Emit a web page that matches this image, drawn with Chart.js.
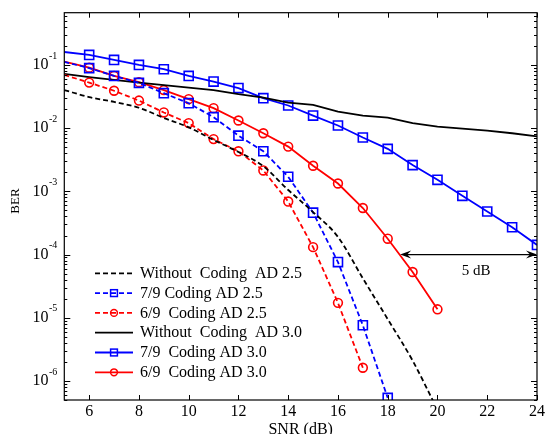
<!DOCTYPE html>
<html><head><meta charset="utf-8">
<script src="https://cdn.jsdelivr.net/npm/chart.js@4.4.1/dist/chart.umd.min.js"></script>
<style>html,body{margin:0;padding:0;background:#fff;}#wrap{width:547px;height:434px;position:relative;}</style>
</head><body><div id="wrap"><canvas id="c" width="547" height="434"></canvas></div>
<script>
// ---------- data ----------
const snrUncoded25 = [5,6,7,8,9,10,11,12,13,14,15,16,17,18,19,20];
const berUncoded25 = [0.040,0.031,0.026,0.021,0.0145,0.0103,0.0065,0.0042,0.0025,0.00105,0.00047,0.00019,4.2e-5,9.5e-6,2.1e-6,3.5e-7];
const snrCode79_25 = [5,6,7,8,9,10,11,12,13,14,15,16,17,18];
const berCode79_25 = [0.112,0.089,0.067,0.052,0.0357,0.0248,0.0149,0.0076,0.0043,0.0017,0.00046,7.6e-5,7.6e-6,5.4e-7];
const snrCode69_25 = [5,6,7,8,9,10,11,12,13,14,15,16,17];
const berCode69_25 = [0.0695,0.0525,0.039,0.0273,0.0177,0.012,0.0067,0.0043,0.00214,0.00069,0.000131,1.72e-5,1.62e-6];
const snrUncoded30 = [5,6,7,8,9,10,11,12,13,14,15,16,17,18,19,20,21,22,23,24];
const berUncoded30 = [0.072,0.064,0.058,0.0525,0.048,0.0438,0.040,0.0344,0.0305,0.0254,0.0233,0.0183,0.0158,0.0147,0.012,0.0106,0.0098,0.0091,0.0083,0.0074];
const snrCode79_30 = [5,6,7,8,9,10,11,12,13,14,15,16,17,18,19,20,21,22,23,24];
const berCode79_30 = [0.16,0.144,0.12,0.1,0.0855,0.067,0.0545,0.043,0.0298,0.0228,0.0158,0.011,0.0071,0.0047,0.0026,0.00152,0.00085,0.00048,0.00027,0.000142];
const snrCode69_30 = [5,6,7,8,9,10,11,12,13,14,15,16,17,18,19,20];
const berCode69_30 = [0.113,0.0906,0.067,0.0533,0.040,0.0287,0.0207,0.0132,0.0083,0.0051,0.00254,0.00133,0.000545,0.000178,5.3e-5,1.36e-5];

const seriesLabels = ['Without  Coding  AD 2.5','7/9 Coding AD 2.5','6/9  Coding AD 2.5','Without  Coding  AD 3.0','7/9  Coding AD 3.0','6/9  Coding AD 3.0'];
const xTickVals = [6,8,10,12,14,16,18,20,22,24];
const yDecades = [-6,-5,-4,-3,-2,-1];
const xRange = [5,24];
const yRange = [5e-7,0.67];
// annotation (data units)
const arrowY = 1e-4, arrowX = [18.5,24];
const noteText = '5 dB', noteX = 21.55, noteY = 5.4e-5;

// ---------- styles ----------
const styles = [
  {color:'#000000', dash:[5,3], marker:null},
  {color:'#0000ff', dash:[5,3], marker:'rect'},
  {color:'#ff0000', dash:[5,3], marker:'circle'},
  {color:'#000000', dash:[], marker:null},
  {color:'#0000ff', dash:[], marker:'rect'},
  {color:'#ff0000', dash:[], marker:'circle'}
];
const xs = [snrUncoded25,snrCode79_25,snrCode69_25,snrUncoded30,snrCode79_30,snrCode69_30];
const ys = [berUncoded25,berCode79_25,berCode69_25,berUncoded30,berCode79_30,berCode69_30];
const SERIF = '"Liberation Serif","Times New Roman",serif';

const datasets = styles.map((s,i)=>({
  label: seriesLabels[i],
  data: xs[i].map((x,j)=>({x:x,y:ys[i][j]})),
  borderColor: s.color,
  borderWidth: 1.8,
  borderDash: s.dash,
  backgroundColor: 'rgba(0,0,0,0)',
  pointStyle: s.marker || 'circle',
  pointRadius: s.marker ? (c => (c.raw && c.raw.x < 6) ? 0 : (s.marker==='rect'?6.4:4.4)) : 0,
  pointHoverRadius: 0,
  pointBorderColor: s.color,
  pointBackgroundColor: 'rgba(0,0,0,0)',
  pointBorderWidth: 1.6,
  tension: 0,
  cubicInterpolationMode: i===0 ? 'monotone' : 'default',
  fill: false
}));

function line(ctx,x1,y1,x2,y2){ctx.beginPath();ctx.moveTo(x1,y1);ctx.lineTo(x2,y2);ctx.stroke();}
function arrowHead(ctx,tx,ty,dir){
  // dir: -1 points left, +1 points right
  const L=11, W=4, N=7;
  ctx.beginPath();
  ctx.moveTo(tx,ty);
  ctx.lineTo(tx-dir*L,ty-W);
  ctx.lineTo(tx-dir*N,ty);
  ctx.lineTo(tx-dir*L,ty+W);
  ctx.closePath();
  ctx.fill();
}

const decor = {
  id:'decor',
  afterDatasetsDraw(chart){
    const {ctx, chartArea:a, scales:{x,y}} = chart;
    ctx.save();
    ctx.strokeStyle='#000'; ctx.fillStyle='#000'; ctx.setLineDash([]);
    // frame
    ctx.lineWidth=1.2;
    ctx.strokeRect(a.left,a.top,a.right-a.left,a.bottom-a.top);
    ctx.lineWidth=1;
    // x ticks
    xTickVals.forEach(v=>{
      const px=Math.round(x.getPixelForValue(v))+0.5;
      line(ctx,px,a.bottom,px,a.bottom-5);
      line(ctx,px,a.top,px,a.top+5);
    });
    // y ticks
    for(let d=-7; d<=0; d++){
      for(let k=1;k<10;k++){
        const v=k*Math.pow(10,d);
        if(v<y.min||v>y.max) continue;
        const py=Math.round(y.getPixelForValue(v))+0.5;
        const L=(k===1)?6:3;
        line(ctx,a.left,py,a.left+L,py);
        line(ctx,a.right,py,a.right-L,py);
      }
    }
    // y tick labels 10^e
    ctx.textBaseline='middle';
    yDecades.forEach(e=>{
      const py=y.getPixelForValue(Math.pow(10,e));
      ctx.font='16px '+SERIF; ctx.textAlign='right';
      ctx.fillText('10',48.5,py);
      ctx.font='10px '+SERIF; ctx.textAlign='left';
      ctx.fillText(String(e),49,py-9);
    });
    // y title
    ctx.save();
    ctx.translate(16,201); ctx.rotate(-Math.PI/2);
    ctx.font='13px '+SERIF; ctx.textAlign='center';
    ctx.fillText('BER',0,0);
    ctx.restore();
    // legend
    const lx0=95, lx1=133, ltx=140, ly0=273.3, lstep=19.8;
    styles.forEach((s,i)=>{
      const ly=ly0+i*lstep;
      ctx.strokeStyle=s.color; ctx.lineWidth=1.8; ctx.setLineDash(s.dash);
      line(ctx,lx0,ly,lx1,ly);
      ctx.setLineDash([]); ctx.lineWidth=1.5;
      const mx=(lx0+lx1)/2;
      if(s.marker==='rect'){ ctx.strokeRect(mx-3.4,ly-3.4,6.8,6.8); }
      else if(s.marker==='circle'){ ctx.beginPath(); ctx.arc(mx,ly,3.4,0,Math.PI*2); ctx.stroke(); }
      ctx.fillStyle='#000'; ctx.font='16px '+SERIF; ctx.textAlign='left'; ctx.textBaseline='middle';
      ctx.fillText(seriesLabels[i],ltx,ly+0.5);
    });
    // annotation arrow
    ctx.strokeStyle='#000'; ctx.fillStyle='#000'; ctx.lineWidth=1.2; ctx.setLineDash([]);
    const ay=y.getPixelForValue(arrowY);
    const ax1=x.getPixelForValue(arrowX[0]), ax2=x.getPixelForValue(arrowX[1]);
    line(ctx,ax1+6,ay,ax2-6,ay);
    arrowHead(ctx,ax1,ay,-1);
    arrowHead(ctx,ax2,ay,1);
    ctx.font='15px '+SERIF; ctx.textAlign='center'; ctx.textBaseline='middle';
    ctx.fillText(noteText,x.getPixelForValue(noteX),y.getPixelForValue(noteY));
    ctx.restore();
  }
};

new Chart(document.getElementById('c'),{
  type:'line',
  data:{datasets:datasets},
  options:{
    responsive:false, animation:false,
    layout:{padding:{left:0,right:8.7,top:12.7,bottom:0}},
    plugins:{legend:{display:false}, tooltip:{enabled:false}},
    scales:{
      x:{type:'linear', min:xRange[0], max:xRange[1],
        grid:{display:false, drawTicks:false}, border:{display:false},
        afterBuildTicks:s=>{s.ticks=xTickVals.map(v=>({value:v}));},
        afterFit:s=>{s.height=34;},
        ticks:{autoSkip:false, maxRotation:0, padding:2, color:'#000', font:{family:SERIF,size:16}},
        title:{display:true, text:'SNR (dB)', color:'#000', font:{family:SERIF,size:16,lineHeight:1}, padding:{top:0,bottom:-4}}
      },
      y:{type:'logarithmic', min:yRange[0], max:yRange[1],
        grid:{display:false, drawTicks:false}, border:{display:false},
        ticks:{display:false},
        afterFit:s=>{s.width=64.3;}
      }
    }
  },
  plugins:[decor]
});
</script></body></html>
